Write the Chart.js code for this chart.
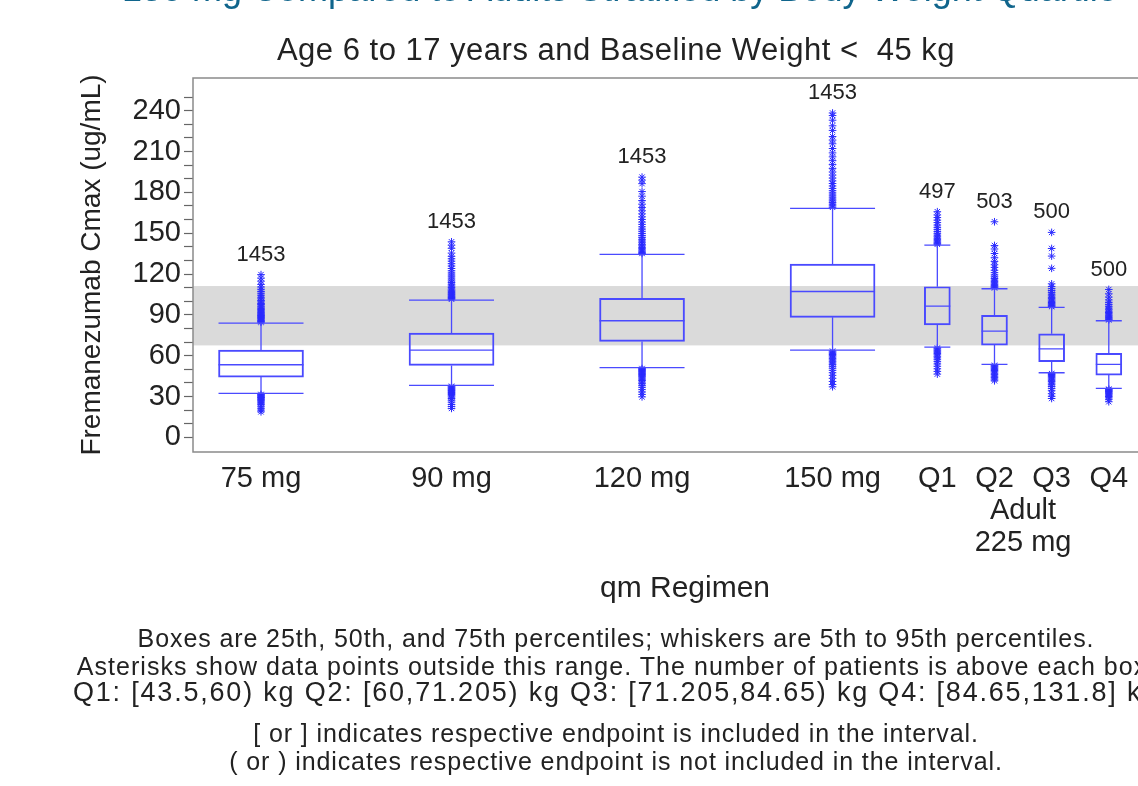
<!DOCTYPE html>
<html><head><meta charset="utf-8">
<script src="https://cdn.jsdelivr.net/npm/chart.js@4.4.1/dist/chart.umd.min.js"></script>
<style>
html,body{margin:0;padding:0;background:#fff;overflow:hidden;width:1138px;height:786px;}
#wrap{position:absolute;left:0;top:0;width:1232px;height:786px;overflow:hidden;}
canvas{position:absolute;left:0;top:0;}
.t{position:absolute;left:0;width:1232px;text-align:center;font-family:'Liberation Sans',Arial,sans-serif;color:#222;white-space:nowrap;}
.fn{font-size:25px;line-height:25px;letter-spacing:0.9px;}
</style></head><body>
<div id="wrap">
<canvas id="c" width="1232" height="786"></canvas>
<div class="t" style="left:122px;width:auto;text-align:left;top:-29px;font-size:36px;line-height:36px;color:#10658c;">150 mg Compared to Adults Stratified by Body Weight Quartile</div>
<div class="t" style="top:34px;font-size:31px;line-height:31px;letter-spacing:0.5px;">Age 6 to 17 years and Baseline Weight &lt;&nbsp; 45 kg</div>
<div class="t fn" style="top:626px;">Boxes are 25th, 50th, and 75th percentiles; whiskers are 5th to 95th percentiles.</div>
<div class="t fn" style="top:654px;letter-spacing:1.05px;">Asterisks show data points outside this range. The number of patients is above each box.</div>
<div class="t" style="top:679px;font-size:27px;line-height:27px;letter-spacing:1.8px;">Q1: [43.5,60) kg Q2: [60,71.205) kg Q3: [71.205,84.65) kg Q4: [84.65,131.8] kg</div>
<div class="t fn" style="top:721px;">[ or ] indicates respective endpoint is included in the interval.</div>
<div class="t fn" style="top:749px;">( or ) indicates respective endpoint is not included in the interval.</div>
</div>
<script>
// ---- data ----
const categories = ['75 mg', '90 mg', '120 mg', '150 mg', 'Q1', 'Q2', 'Q3', 'Q4'];
const catPos = [1, 2, 3, 4, 4.55, 4.85, 5.15, 5.45];
const nPatients = [1453, 1453, 1453, 1453, 497, 503, 500, 500];
const p5  = [32.3, 38.2, 51.2, 64.1, 66.3, 53.6, 47.5, 36.0];
const p25 = [44.3, 52.9, 70.5, 88.2, 82.7, 67.8, 55.6, 45.8];
const p50 = [53.4, 64.1, 85.7, 107.2, 96.5, 78.1, 65.1, 53.6];
const p75 = [64.2, 76.6, 102.1, 127.3, 110.7, 89.6, 76.1, 61.7];
const p95 = [84.0, 100.9, 134.4, 168.2, 141.3, 109.2, 95.5, 85.7];
const refBand = [67.6, 111.2];
const yTickLabels = [0, 30, 60, 90, 120, 150, 180, 210, 240];
const adultGroupLabel = ['Adult', '225 mg'];

const outliers75 = [84.6, 85.1, 85.8, 86.3, 87.0, 87.6, 88.2, 88.9, 89.5, 90.1, 90.8, 91.6, 92.3, 93.1, 94.0, 94.8, 95.7, 96.5, 97.6, 98.4, 99.5, 100.6, 101.8, 103.0, 104.4, 105.9, 107.2, 108.8, 110.5, 112.4, 114.8, 117.0, 119.6,
  31.6, 31.0, 30.5, 29.9, 29.3, 28.8, 28.1, 27.5, 26.8, 26.0, 25.2, 24.1, 22.9, 21.4, 20.1, 18.8];
const outliers90 = [101.5, 102.1, 102.8, 103.4, 104.1, 104.9, 105.6, 106.4, 107.3, 108.1, 109.0, 110.2, 111.3, 112.5, 113.8, 115.0, 116.4, 117.9, 119.3, 120.8, 122.4, 124.1, 125.9, 127.6, 129.5, 131.2, 133.0, 135.4, 138.9, 141.2, 143.7,
  37.6, 37.0, 36.4, 35.8, 35.1, 34.5, 33.8, 33.0, 32.3, 31.5, 30.6, 29.7, 28.6, 27.3, 25.9, 24.2, 22.7, 21.3];
const outliers120 = [135.1, 135.9, 136.8, 137.7, 138.6, 139.6, 140.7, 141.8, 143.0, 144.3, 145.5, 146.9, 148.3, 149.8, 151.4, 153.0, 154.7, 156.5, 158.2, 160.1, 162.0, 164.2, 166.5, 168.9, 171.3, 174.0, 177.2, 180.6, 186.4, 189.0, 191.2,
  50.6, 49.9, 49.2, 48.5, 47.8, 47.0, 46.2, 45.4, 44.6, 43.7, 42.8, 41.8, 40.7, 39.5, 38.2, 36.8, 35.1, 33.4, 31.6, 29.8];
const outliers150 = [169.0, 170.1, 171.3, 172.5, 173.8, 175.1, 176.5, 178.0, 179.6, 181.2, 182.9, 184.7, 186.5, 188.4, 190.5, 192.7, 195.0, 197.6, 200.4, 203.3, 206.1, 209.0, 212.2, 215.7, 218.4, 221.0, 225.5, 228.9, 233.0, 236.4, 238.3,
  63.4, 62.6, 61.8, 60.9, 60.0, 59.1, 58.1, 57.0, 55.9, 54.7, 53.5, 52.2, 50.8, 49.3, 47.5, 45.6, 43.4, 41.1, 38.9, 37.2];
const outliersQ1 = [141.9, 142.6, 143.4, 144.3, 145.2, 146.3, 147.4, 148.6, 149.9, 151.3, 152.8, 154.3, 156.0, 157.8, 159.6, 161.5, 163.4, 165.8,
  65.7, 65.0, 64.2, 63.4, 62.6, 61.7, 60.7, 59.6, 58.4, 57.1, 55.7, 54.0, 52.3, 50.4, 48.5, 46.5];
const outliersQ2 = [109.8, 110.4, 111.1, 111.8, 112.6, 113.5, 114.4, 115.5, 116.7, 118.0, 119.4, 121.0, 122.8, 124.9, 126.8, 129.3, 132.0, 135.1, 138.4, 141.0, 158.4,
  53.0, 52.3, 51.6, 50.8, 50.0, 49.1, 48.2, 47.2, 46.1, 45.0, 43.9, 42.8, 41.6];
const outliersQ3 = [96.1, 96.8, 97.5, 98.3, 99.1, 100.0, 100.9, 101.9, 102.9, 104.0, 105.2, 106.5, 107.9, 109.3, 110.9, 112.8, 124.2, 133.2, 138.8, 150.6,
  46.9, 46.2, 45.4, 44.6, 43.8, 42.9, 42.0, 41.0, 39.9, 38.7, 37.4, 36.0, 34.3, 32.1, 30.2, 28.6];
const outliersQ4 = [86.3, 86.9, 87.6, 88.3, 89.1, 89.9, 90.8, 91.7, 92.7, 93.8, 95.0, 96.3, 97.7, 99.2, 101.0, 103.1, 105.5, 108.7,
  35.5, 35.0, 34.4, 33.8, 33.2, 32.5, 31.8, 31.0, 30.1, 29.1, 28.0, 26.2];
const outlierSets = [outliers75, outliers90, outliers120, outliers150, outliersQ1, outliersQ2, outliersQ3, outliersQ4];

// ---- style ----
const BLUE_LINE = '#4a4aff';
const BLUE_STAR = '#2a2aff';
const LINE_W = 1.3;
const FONT = "'Liberation Sans', Arial, sans-serif";
Chart.defaults.font.family = FONT;
Chart.defaults.color = '#222';

const pedIdx = [0, 1, 2, 3];
const adultIdx = [4, 5, 6, 7];
const boxWidth = (i) => (i < 4 ? 85 : 26);

const boxPlugin = {
  id: 'boxExtras',
  beforeDatasetsDraw(chart) {
    const { ctx, chartArea: a, scales: { y } } = chart;
    const top = y.getPixelForValue(refBand[1]);
    const bot = y.getPixelForValue(refBand[0]);
    ctx.save();
    ctx.fillStyle = '#dadada';
    ctx.fillRect(a.left, top, a.right - a.left, bot - top);
    ctx.restore();
  },
  afterDatasetsDraw(chart) {
    const { ctx, chartArea: a, scales: { x, y } } = chart;
    ctx.save();
    ctx.strokeStyle = BLUE_LINE;
    ctx.lineWidth = LINE_W;
    categories.forEach((c, i) => {
      const cx = x.getPixelForValue(catPos[i]);
      const hw = boxWidth(i) / 2;
      const yl = y.getPixelForValue(p5[i]), yq1 = y.getPixelForValue(p25[i]);
      const ym = y.getPixelForValue(p50[i]), yq3 = y.getPixelForValue(p75[i]);
      const yh = y.getPixelForValue(p95[i]);
      ctx.beginPath();
      ctx.moveTo(cx, yl); ctx.lineTo(cx, yq1);
      ctx.moveTo(cx, yq3); ctx.lineTo(cx, yh);
      ctx.moveTo(cx - hw, yl); ctx.lineTo(cx + hw, yl);
      ctx.moveTo(cx - hw, yh); ctx.lineTo(cx + hw, yh);
      ctx.moveTo(cx - hw, ym); ctx.lineTo(cx + hw, ym);
      ctx.stroke();
    });
    // counts
    ctx.fillStyle = '#222';
    ctx.font = '22px ' + FONT;
    ctx.textAlign = 'center';
    ctx.textBaseline = 'middle';
    categories.forEach((c, i) => {
      const cx = x.getPixelForValue(catPos[i]);
      const topVal = Math.max(...outlierSets[i]);
      ctx.fillText(String(nPatients[i]), cx, y.getPixelForValue(topVal) - 20);
    });
    // adult group label
    ctx.font = '29px ' + FONT;
    const gx = x.getPixelForValue((catPos[5] + catPos[6]) / 2);
    ctx.fillText(adultGroupLabel[0], gx, a.bottom + 59);
    ctx.fillText(adultGroupLabel[1], gx, a.bottom + 91);
    // frame
    ctx.strokeStyle = '#8a8a8a';
    ctx.lineWidth = 1.5;
    ctx.strokeRect(a.left, a.top, a.right - a.left, a.bottom - a.top);
    ctx.restore();
  }
};

const outlierData = [];
outlierSets.forEach((set, i) => set.forEach(v => outlierData.push({ x: catPos[i], y: v })));

new Chart(document.getElementById('c'), {
  type: 'bar',
  data: {
    datasets: [
      {
        type: 'scatter', data: outlierData, pointStyle: 'star', pointRadius: 3.8,
        borderColor: BLUE_STAR, backgroundColor: BLUE_STAR, borderWidth: 1, showLine: false
      },
      {
        type: 'bar', grouped: false, barThickness: 85,
        data: pedIdx.map(i => ({ x: catPos[i], y: [p25[i], p75[i]] })),
        borderColor: BLUE_LINE, backgroundColor: 'rgba(0,0,0,0)', borderWidth: LINE_W, borderSkipped: false
      },
      {
        type: 'bar', grouped: false, barThickness: 26,
        data: adultIdx.map(i => ({ x: catPos[i], y: [p25[i], p75[i]] })),
        borderColor: BLUE_LINE, backgroundColor: 'rgba(0,0,0,0)', borderWidth: LINE_W, borderSkipped: false
      }
    ]
  },
  options: {
    responsive: false, animation: false, devicePixelRatio: 1, events: [],
    layout: { padding: { left: 71, right: 55, top: 78, bottom: 175 } },
    plugins: { legend: { display: false }, tooltip: { enabled: false }, title: { display: false } },
    scales: {
      x: {
        type: 'linear', min: 0.643, max: 5.808, offset: false,
        grid: { display: false, drawTicks: false }, border: { display: false },
        afterBuildTicks: s => { s.ticks = catPos.map(v => ({ value: v })); },
        afterFit: s => { s.height = 159; },
        ticks: { autoSkip: false, maxRotation: 0, padding: 10, font: { size: 29 }, color: '#222',
          callback: (v, i) => categories[i] },
        title: { display: true, text: 'qm Regimen', font: { size: 30 }, color: '#222' }
      },
      y: {
        type: 'linear', min: -10.7, max: 264,
        afterBuildTicks: s => {
          const t = [];
          for (let v = 0; v <= 250; v += 10) t.push({ value: v });
          s.ticks = t;
        },
        afterFit: s => { s.width = 122; },
        grid: { drawOnChartArea: false, drawTicks: true, tickLength: 9, tickColor: '#666', tickWidth: 1.2 },
        border: { display: false },
        ticks: { autoSkip: false, padding: 3, font: { size: 29 }, color: '#222',
          callback: v => (yTickLabels.includes(v) ? String(v) : '') },
        title: { display: true, text: 'Fremanezumab Cmax (ug/mL)', font: { size: 28 }, color: '#222' }
      }
    }
  },
  plugins: [boxPlugin]
});
</script>
</body></html>
